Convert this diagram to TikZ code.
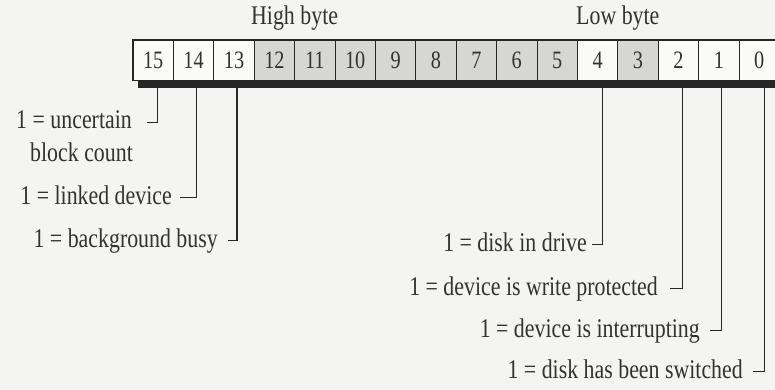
\documentclass[tikz,border=0pt]{standalone}
\usepackage{fontspec}
\setmainfont{Liberation Serif}[FakeStretch=0.81]
\definecolor{paper}{RGB}{244,244,242}
\definecolor{cellwhite}{RGB}{250,250,249}
\definecolor{cellgray}{RGB}{214,214,211}
\definecolor{ink}{RGB}{38,38,38}
\definecolor{txt}{RGB}{50,50,50}

\begin{document}
\begin{tikzpicture}[x=1pt,y=-1pt,
  bitcell/.style={draw=ink, line width=0.9pt, minimum width=40.4pt,
    minimum height=40pt, inner sep=0pt, fill=cellwhite,
    font=\fontsize{25}{25}\selectfont, text=txt},
  shaded/.style={bitcell, fill=cellgray},
  lbl/.style={inner sep=0pt, font=\fontsize{27}{32}\selectfont, text=txt},
  leader/.style={draw=ink, line width=1.3pt}]
\useasboundingbox (0,0) rectangle (775,390);
\fill[paper] (0,0) rectangle (775,390);

% drop shadow under the register
\fill[ink] (138,80) rectangle (800,88);

% the sixteen bit cells, bit 15 on the left
\foreach \b/\s in {15/bitcell,14/bitcell,13/bitcell,12/shaded,11/shaded,
    10/shaded,9/shaded,8/shaded,7/shaded,6/shaded,5/shaded,4/bitcell,
    3/shaded,2/bitcell,1/bitcell,0/bitcell}
  \node[\s] (c\b) at ({133+(15-\b)*40.4+20.2},60) {\b};
\draw[ink, line width=1.6pt] (c15.north west) rectangle (c0.south east);

% byte headings
\path (c15.north west) -- (c8.north east) coordinate[pos=0.5] (himid);
\path (c7.north west) -- (c0.north east) coordinate[pos=0.5] (lomid);
\node[lbl, anchor=base] (hi) at (himid |- 0,25) {High byte};
\node[lbl, anchor=base] (lo) at (lomid |- 0,25) {Low byte};

% flag descriptions
\node[lbl, anchor=base east] (l15) at (132,129) {1 = uncertain};
\node[lbl, anchor=base west] (l15b) at (30,161) {block count};
\node[lbl, anchor=base east] (l14) at (172,204) {1 = linked device};
\node[lbl, anchor=base east] (l13) at (218,247) {1 = background busy};
\node[lbl, anchor=base east] (l4) at (587,251) {1 = disk in drive};
\node[lbl, anchor=base east] (l2) at (658,295) {1 = device is write protected};
\node[lbl, anchor=base east] (l1) at (700,337) {1 = device is interrupting};
\node[lbl, anchor=base east] (l0) at (743,378) {1 = disk has been switched};

% leaders from each description up to its bit
\draw[leader] ([xshift=15pt,yshift=6.5pt]l15.base east) -| ([xshift=4pt]c15.south);
\draw[leader] ([xshift=8pt,yshift=6.5pt]l14.base east) -| ([xshift=3pt]c14.south);
\draw[leader] ([xshift=10pt,yshift=6.5pt]l13.base east) -| ([xshift=3pt]c13.south);
\draw[leader] ([xshift=5pt,yshift=6.5pt]l4.base east) -| ([xshift=5pt]c4.south);
\draw[leader] ([xshift=12pt,yshift=6.5pt]l2.base east) -| ([xshift=4pt]c2.south);
\draw[leader] ([xshift=10pt,yshift=6.5pt]l1.base east) -| ([xshift=3pt]c1.south);
\draw[leader] ([xshift=10pt,yshift=6.5pt]l0.base east) -| ([xshift=5pt]c0.south);
\end{tikzpicture}
\end{document}
